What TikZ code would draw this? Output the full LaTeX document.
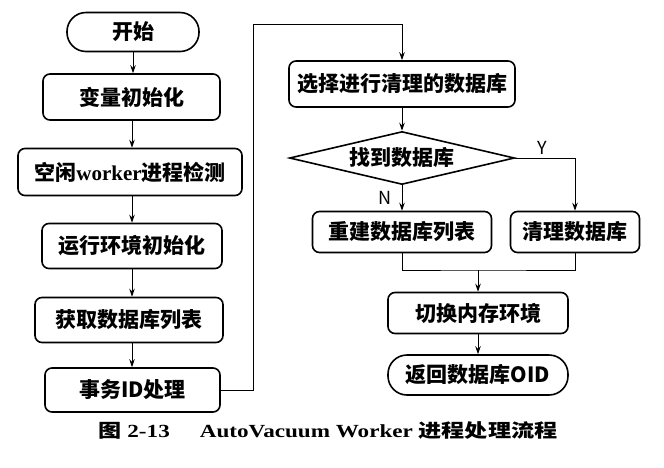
\documentclass[tikz,border=0pt]{standalone}
\usepackage{fontspec}
\setmainfont{Liberation Serif}
\newfontfamily\cjk{Noto Sans CJK SC}
\usetikzlibrary{arrows.meta,shapes.geometric}
\newcommand{\boxfont}{\fontsize{21}{24}\selectfont\cjk\bfseries}
\begin{document}
\begin{tikzpicture}[x=1pt,y=-1pt,
  box/.style={draw,line width=1.6pt,rounded corners=7pt,inner sep=0pt,font=\boxfont},
  term/.style={draw,line width=1.6pt,rounded corners=19pt,inner sep=0pt,font=\boxfont},
  dia/.style={draw,diamond,aspect=4.25,line width=1.6pt,inner sep=0pt,font=\boxfont},
  conn/.style={line width=1pt},
  arr/.style={conn,-{Stealth[length=8pt,width=5.5pt]}},
  lab/.style={font=\fontsize{18}{20}\selectfont\cjk}
]
\useasboundingbox (0,0) rectangle (664,467);
% left column
\node[term, minimum width=132, minimum height=39] (start) at (133,32) {开始};
\node[box, minimum width=177, minimum height=46] (v) at (131.5,97) {变量初始化};
\node[box, minimum width=224, minimum height=47] (k) at (130,172) {空闲{\rmfamily worker}进程检测};
\node[box, minimum width=180, minimum height=45] (y) at (132,246) {运行环境初始化};
\node[box, minimum width=188, minimum height=45] (h) at (129,320) {获取数据库列表};
\node[box, minimum width=175, minimum height=44] (s) at (132.5,390) {事务ID处理};
% right column
\node[box, minimum width=226, minimum height=46] (sel) at (402,84) {选择进行清理的数据库};
\node[dia, minimum width=225, minimum height=53] (d) at (402,158) {找到数据库};
\node[box, minimum width=179, minimum height=41] (r) at (402,232) {重建数据库列表};
\node[box, minimum width=129, minimum height=41] (c) at (575,232) {清理数据库};
\node[box, minimum width=180, minimum height=41] (sw) at (478,313) {切换内存环境};
\node[term, minimum width=180, minimum height=40] (ret) at (478,375) {返回数据库OID};
% connectors
\draw[arr] (start.south) -- (start.south |- v.north);
\draw[arr] ([xshift=0.5pt]v.south) -- ([xshift=0.5pt]v.south |- k.north);
\draw[arr] ([xshift=2pt]k.south) -- ([xshift=2pt]k.south |- y.north);
\draw[arr] (y.south) -- (y.south |- h.north);
\draw[arr] ([xshift=3pt]h.south) -- ([xshift=3pt]h.south |- s.north);
\coordinate (tl) at (253,24);
\draw[arr] (s.east) -- (s.east -| tl) -- (tl) -| (sel.north);
\draw[arr] (sel.south) -- (d.north);
\draw[arr] (d.east) -| (c.north);
\draw[arr] (d.south) -- (r.north);
\node[lab] (ylab) at (542,148) {Y};
\node[lab] (nlab) at (385,198) {N};
\coordinate (m) at (478,270);
\draw[conn] (r.south) |- (m) -| (c.south);
\draw[arr] (m) -- (sw.north);
\draw[arr] (sw.south) -- (ret.north);
% caption
\node[xscale=1.25, inner sep=0pt] (cap) at (328,430) {\fontsize{18.5}{20}\selectfont{\cjk\bfseries 图} \textbf{2-13}\hspace{1.3em}\textbf{AutoVacuum Worker} {\cjk\bfseries 进程处理流程}};
\end{tikzpicture}
\end{document}
